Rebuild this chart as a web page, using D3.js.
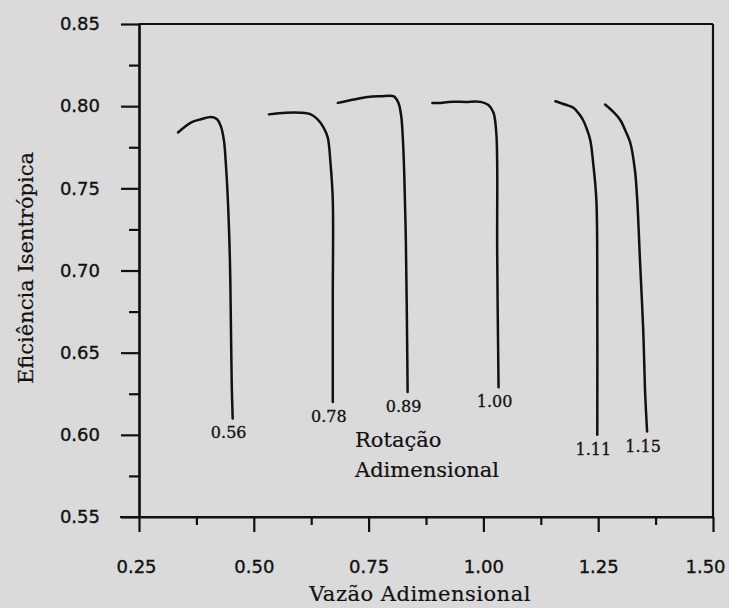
<!DOCTYPE html>
<html>
<head>
<meta charset="utf-8">
<script src="https://cdn.jsdelivr.net/npm/d3@7"></script>
<style>
  html, body { margin: 0; padding: 0; background: #d9dad9; }
  svg { display: block; }
</style>
</head>
<body>
<svg id="chart" width="729" height="608"></svg>
<script>
// ---- data ----
const speedLabels = ["0.56", "0.78", "0.89", "1.00", "1.11", "1.15"];

const flow056 = [0.335, 0.363, 0.385, 0.407, 0.420, 0.428, 0.435, 0.439, 0.4435, 0.448, 0.450, 0.452, 0.454];
const eff056  = [0.784, 0.790, 0.792, 0.7934, 0.792, 0.788, 0.779, 0.7655, 0.743, 0.706, 0.670, 0.630, 0.610];

const flow078 = [0.533, 0.570, 0.602, 0.624, 0.639, 0.652, 0.661, 0.667, 0.672, 0.672, 0.672];
const eff078  = [0.795, 0.796, 0.796, 0.795, 0.792, 0.787, 0.781, 0.7655, 0.743, 0.682, 0.620];

const flow089 = [0.683, 0.700, 0.717, 0.748, 0.776, 0.805, 0.815, 0.821, 0.825, 0.828, 0.831, 0.833, 0.835];
const eff089  = [0.802, 0.803, 0.804, 0.8056, 0.806, 0.806, 0.802, 0.794, 0.778, 0.755, 0.720, 0.680, 0.626];

const flow100 = [0.889, 0.907, 0.924, 0.961, 0.994, 1.011, 1.022, 1.028, 1.030, 1.030, 1.033];
const eff100  = [0.802, 0.802, 0.8026, 0.8026, 0.8026, 0.8007, 0.796, 0.784, 0.7655, 0.7125, 0.629];

const flow111 = [1.157, 1.178, 1.196, 1.209, 1.217, 1.226, 1.233, 1.239, 1.246, 1.248, 1.248];
const eff111  = [0.803, 0.801, 0.799, 0.795, 0.7916, 0.7855, 0.779, 0.7655, 0.743, 0.682, 0.600];

const flow115 = [1.265, 1.283, 1.298, 1.311, 1.320, 1.330, 1.335, 1.341, 1.348, 1.352, 1.3565];
const eff115  = [0.801, 0.7965, 0.7916, 0.784, 0.7776, 0.761, 0.743, 0.706, 0.664, 0.627, 0.602];

const xMajorTicks = [0.25, 0.50, 0.75, 1.00, 1.25, 1.50];
const xMinorTicks = [0.375, 0.625, 0.875, 1.125, 1.375];
const yMajorTicks = [0.55, 0.60, 0.65, 0.70, 0.75, 0.80, 0.85];
const yMinorTicks = [0.575, 0.625, 0.675, 0.725, 0.775, 0.825];

const xTitle = "Vazão Adimensional";
const yTitle = "Eficiência Isentrópica";
const noteLines = ["Rotação", "Adimensional"];

// ---- drawing ----
const svg = d3.select("#chart");
svg.append("rect").attr("width", 729).attr("height", 608).attr("fill", "#d9dad9");

const x = d3.scaleLinear().domain([0.25, 1.50]).range([139, 713]);
const y = d3.scaleLinear().domain([0.55, 0.85]).range([517, 24]);

const ink = "#111";
const sans = "'DejaVu Sans', sans-serif";
const serif = "'DejaVu Serif', serif";

// frame: top and right borders
svg.append("line")
  .attr("x1", x(0.25)).attr("x2", x(1.50))
  .attr("y1", y(0.85)).attr("y2", y(0.85))
  .attr("stroke", ink).attr("stroke-width", 2.2);
svg.append("line")
  .attr("x1", x(1.50)).attr("x2", x(1.50))
  .attr("y1", y(0.85)).attr("y2", y(0.55))
  .attr("stroke", ink).attr("stroke-width", 2.2);

function styleAxis(g) {
  g.selectAll("path, line").attr("stroke", ink).attr("stroke-width", 2.2);
  g.selectAll("text").attr("fill", ink).attr("stroke", ink).attr("stroke-width", 0.35);
}

// x axis
const gxMinor = svg.append("g").attr("transform", `translate(0,${y(0.55)})`)
  .call(d3.axisBottom(x).tickValues(xMinorTicks).tickSize(8).tickSizeOuter(0).tickFormat(""));
const gx = svg.append("g").attr("transform", `translate(0,${y(0.55)})`)
  .call(d3.axisBottom(x).tickValues(xMajorTicks).tickSize(15).tickSizeOuter(0)
    .tickFormat(d3.format(".2f")));
gx.select(".domain").attr("d", `M${x(0.25) - 19},0H${x(1.50)}`);
gx.selectAll("text").attr("y", 43).attr("dy", "0.71em")
  .attr("font-family", sans).attr("font-size", 18)
  .attr("x", d => d === 1.50 ? -8 : (d === 0.25 ? -3 : 0));
styleAxis(gxMinor); styleAxis(gx);

// y axis
const gyMinor = svg.append("g").attr("transform", `translate(${x(0.25)},0)`)
  .call(d3.axisLeft(y).tickValues(yMinorTicks).tickSize(10).tickSizeOuter(0).tickFormat(""));
const gy = svg.append("g").attr("transform", `translate(${x(0.25)},0)`)
  .call(d3.axisLeft(y).tickValues(yMajorTicks).tickSize(18).tickSizeOuter(0)
    .tickFormat(d3.format(".2f")));
gy.selectAll("text").attr("x", -39).attr("font-family", sans).attr("font-size", 18);
styleAxis(gyMinor); styleAxis(gy);

// curves
const series = [
  [flow056, eff056], [flow078, eff078], [flow089, eff089],
  [flow100, eff100], [flow111, eff111], [flow115, eff115]
];
const line = d3.line().x(d => x(d[0])).y(d => y(d[1])).curve(d3.curveCatmullRom.alpha(0.5));
series.forEach(([fx, fy], i) => {
  const pts = fx.map((v, j) => [v, fy[j]]);
  svg.append("path").datum(pts)
    .attr("d", line)
    .attr("fill", "none").attr("stroke", ink).attr("stroke-width", 2.5)
    .attr("stroke-linejoin", "round").attr("stroke-linecap", "round");
  const last = pts[pts.length - 1];
  svg.append("text")
    .attr("x", x(last[0]) - 4).attr("y", y(last[1]) + 20)
    .attr("text-anchor", "middle")
    .attr("font-family", serif).attr("font-size", 16).attr("fill", ink)
    .attr("stroke", ink).attr("stroke-width", 0.3)
    .text(speedLabels[i]);
});

// annotation
[447, 477].forEach((by, k) => {
  svg.append("text")
    .attr("x", 355).attr("y", by)
    .attr("font-family", serif).attr("font-size", 21).attr("fill", ink)
    .attr("stroke", ink).attr("stroke-width", 0.2)
    .text(noteLines[k]);
});

// axis titles
svg.append("text")
  .attr("x", 420).attr("y", 601)
  .attr("text-anchor", "middle")
  .attr("font-family", serif).attr("font-size", 21).attr("fill", ink)
  .attr("stroke", ink).attr("stroke-width", 0.2)
  .attr("letter-spacing", 0.5)
  .text(xTitle);
svg.append("text")
  .attr("transform", "translate(33,268) rotate(-90)")
  .attr("text-anchor", "middle")
  .attr("font-family", serif).attr("font-size", 21).attr("fill", ink)
  .attr("stroke", ink).attr("stroke-width", 0.2)
  .text(yTitle);
</script>
</body>
</html>
